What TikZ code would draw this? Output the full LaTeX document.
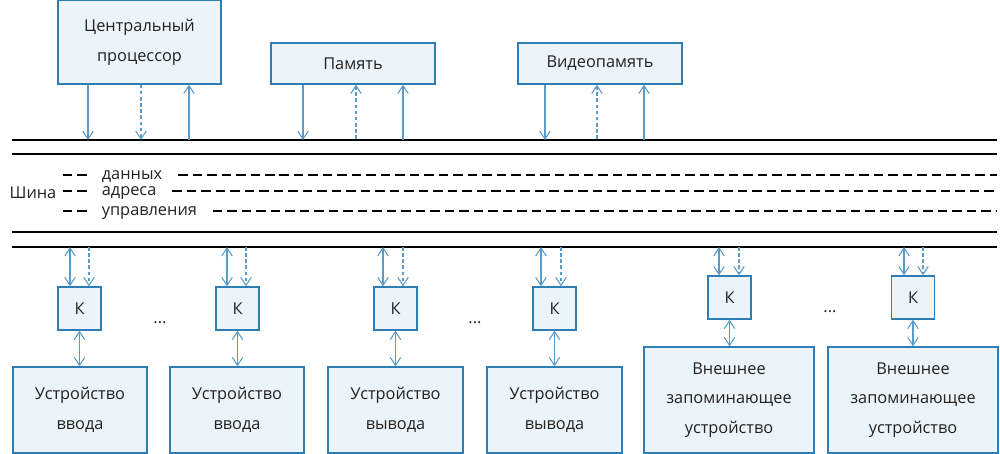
\documentclass[tikz,border=0pt]{standalone}
\usepackage{fontspec}
\setmainfont{Open Sans}
\usepackage{tikz}
\usetikzlibrary{arrows.meta}
\definecolor{boxblue}{HTML}{2F7DB5}
\definecolor{boxfill}{HTML}{EBF4FA}
\definecolor{linkblue}{HTML}{5B9BC9}
\definecolor{inkgray}{HTML}{222222}
\tikzset{
    unit/.style={rectangle, draw=boxblue, fill=boxfill, line width=0.8pt,
        align=center, inner sep=0pt, text=inkgray,
        font=\fontsize{9.3}{17}\selectfont},
    ctrl/.style={unit, minimum width=0.86cm, minimum height=0.86cm},
    tag/.style={inner sep=2pt, text=inkgray, font=\fontsize{9.3}{11}\selectfont},
    link/.style={draw=linkblue, line width=0.6pt},
    sig/.style={link, dash pattern=on 2pt off 1.5pt},
    busline/.style={draw=black, line width=1.3pt},
    field/.style={draw=black, line width=1.1pt, dash pattern=on 0.19cm off 0.1cm}
}

\begin{document}
\begin{tikzpicture}[x=0.02cm,y=-0.02cm,
    >={Straight Barb[length=1.6mm,width=2.1mm]}]
        \useasboundingbox (0,0) rectangle (1000,453);
        % upper units
        \node[unit,minimum width=3.26cm,minimum height=1.68cm] at (139.5,42) (cpu) {Центральный\\процессор};
        \node[unit,minimum width=3.28cm,minimum height=0.82cm] at (353,63.5) (mem) {Память};
        \node[unit,minimum width=3.28cm,minimum height=0.82cm] at (600,63.5) (vmem) {Видеопамять};
        % bus
        \coordinate (busA) at (12,140);
        \coordinate (busB) at (12,247);
        \draw[busline] (busA) -- (997,140);
        \draw[busline] (12,154) -- (997,154);
        \draw[busline] (12,232) -- (997,232);
        \draw[busline] (busB) -- (997,247);
        \node[tag] at (33,193) (bus) {Шина};
        \node[tag,anchor=west] at (98,177) (data) {данных};
        \node[tag,anchor=west] at (98,193) (addr) {адреса};
        \node[tag,anchor=west] at (98,213) (ctl) {управления};
        \draw[field] (63,175) -- (88,175);
        \draw[field] (63,191) -- (88,191);
        \draw[field] (63,211) -- (88,211);
        \draw[field] ([xshift=0.24cm]data.east |- 0,175) -- (997,175);
        \draw[field] ([xshift=0.24cm]addr.east |- 0,191) -- (997,191);
        \draw[field] ([xshift=0.24cm]ctl.east |- 0,211) -- (997,211);
        \draw[link,->] (cpu.south -| 88,0) -- (88,0 |- busA);
        \draw[sig,->] (cpu.south -| 141,0) -- (141,0 |- busA);
        \draw[link,<-] (cpu.south -| 189,0) -- (189,0 |- busA);
        \draw[link,->] (mem.south -| 303,0) -- (303,0 |- busA);
        \draw[sig,<-] (mem.south -| 356,0) -- (356,0 |- busA);
        \draw[link,<-] (mem.south -| 403,0) -- (403,0 |- busA);
        \draw[link,->] (vmem.south -| 545,0) -- (545,0 |- busA);
        \draw[sig,<-] (vmem.south -| 597,0) -- (597,0 |- busA);
        \draw[link,<-] (vmem.south -| 644,0) -- (644,0 |- busA);
        % controllers
        \node[ctrl] at (79.5,308.5) (k1) {К};
        \node[ctrl] at (237.5,308.5) (k2) {К};
        \node[ctrl] at (395.5,308.5) (k3) {К};
        \node[ctrl] at (554.5,308.5) (k4) {К};
        \node[ctrl] at (729.5,297.5) (k5) {К};
        \node[ctrl] at (913,297.5) (k6) {К};
        \node[tag] at (160,323) (dots1) {...};
        \node[tag] at (475,323) (dots2) {...};
        \node[tag] at (830,312) (dots3) {...};
        % devices
        \node[unit,minimum width=2.68cm,minimum height=1.72cm] at (80,410) (in1) {Устройство\\ввода};
        \node[unit,minimum width=2.68cm,minimum height=1.72cm] at (237,410) (in2) {Устройство\\ввода};
        \node[unit,minimum width=2.7cm,minimum height=1.72cm] at (395.5,410) (out1) {Устройство\\вывода};
        \node[unit,minimum width=2.7cm,minimum height=1.72cm] at (554.5,410) (out2) {Устройство\\вывода};
        \node[unit,minimum width=3.4cm,minimum height=2.12cm] at (729,400) (ext1) {Внешнее\\запоминающее\\устройство};
        \node[unit,minimum width=3.4cm,minimum height=2.12cm] at (913,400) (ext2) {Внешнее\\запоминающее\\устройство};
        % controller links
        \draw[link,<->] (70,0 |- busB) -- (k1.north -| 70,0);
        \draw[sig,->] (89,0 |- busB) -- (k1.north -| 89,0);
        \draw[link,<->] (227,0 |- busB) -- (k2.north -| 227,0);
        \draw[sig,->] (246,0 |- busB) -- (k2.north -| 246,0);
        \draw[link,<->] (383,0 |- busB) -- (k3.north -| 383,0);
        \draw[sig,->] (403,0 |- busB) -- (k3.north -| 403,0);
        \draw[link,<->] (541,0 |- busB) -- (k4.north -| 541,0);
        \draw[sig,->] (561,0 |- busB) -- (k4.north -| 561,0);
        \draw[link,<->] (719,0 |- busB) -- (k5.north -| 719,0);
        \draw[sig,->] (739,0 |- busB) -- (k5.north -| 739,0);
        \draw[link,<->] (904,0 |- busB) -- (k6.north -| 904,0);
        \draw[sig,->] (923,0 |- busB) -- (k6.north -| 923,0);
        \draw[link,<->] (k1.south) -- (k1.south |- in1.north);
        \draw[link,<->] (k2.south) -- (k2.south |- in2.north);
        \draw[link,<->] (k3.south) -- (k3.south |- out1.north);
        \draw[link,<->] (k4.south) -- (k4.south |- out2.north);
        \draw[link,<->] (k5.south) -- (k5.south |- ext1.north);
        \draw[link,<->] (k6.south) -- (k6.south |- ext2.north);
    \end{tikzpicture}
\end{document}
